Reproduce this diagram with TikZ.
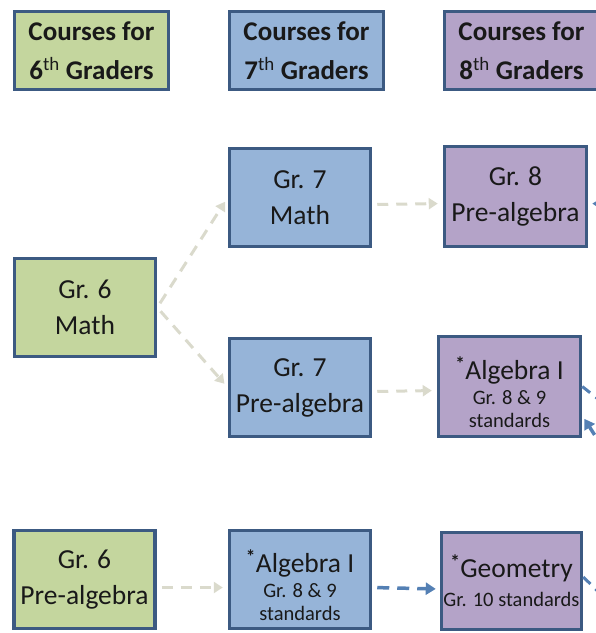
\documentclass[tikz,border=0pt]{standalone}
\usepackage{fontspec}
\setmainfont{Carlito}
\usepackage{tikz}
\usetikzlibrary{arrows.meta, positioning}
\definecolor{sixgreen}{RGB}{196,214,158}
\definecolor{sevenblue}{RGB}{150,180,216}
\definecolor{eightviolet}{RGB}{180,163,200}
\definecolor{boxborder}{RGB}{60,90,130}
\definecolor{pathbeige}{RGB}{218,218,204}
\definecolor{pathblue}{RGB}{84,128,180}
\definecolor{textdark}{RGB}{25,25,25}

\newcommand{\smalltxt}{\fontsize{20.5}{25}\selectfont}
\newcommand{\coremark}{\textsuperscript{\textbf{*}}}

\begin{document}
\begin{tikzpicture}[x=1pt, y=-1pt,
  course/.style={rectangle, draw=boxborder, line width=3.5pt, text=textdark, align=center, inner sep=0pt, minimum width=141pt, minimum height=98pt, font=\fontsize{27.5}{36}\selectfont},
  header/.style={course, minimum width=154pt, minimum height=78pt, font=\fontsize{27}{39}\selectfont\bfseries},
  lightpath/.style={pathbeige, line width=3pt, dash pattern=on 11pt off 8pt, -{Triangle[length=9pt,width=11pt]}, shorten <=5pt, shorten >=5pt},
  bluepath/.style={pathblue, line width=3.5pt, dash pattern=on 12pt off 8pt, -{Triangle[length=10pt,width=12pt]}, shorten <=5pt, shorten >=4pt},
  stubpath/.style={pathblue, line width=3pt, dash pattern=on 10pt off 7pt}]

\useasboundingbox (0,0) rectangle (596,633);

% Column headers
\node[header, fill=sixgreen] at (91.5,50.5) (head6) {Courses for\\6\textsuperscript{\normalfont th} Graders};
\node[header, fill=sevenblue] at (306.5,50.5) (head7) {Courses for\\7\textsuperscript{\normalfont th} Graders};
\node[header, fill=eightviolet] at (521.5,50.5) (head8) {Courses for\\8\textsuperscript{\normalfont th} Graders};

% Grade 6 courses
\node[course, fill=sixgreen] at (85,307.5) (gr6math) {Gr. 6\\Math};
\node[course, fill=sixgreen] at (84.5,579.5) (gr6pre) {Gr. 6\\Pre-algebra};

% Grade 7 courses
\node[course, fill=sevenblue] at (300,197.5) (gr7math) {Gr. 7\\Math};
\node[course, fill=sevenblue] at (300,387.5) (gr7pre) {Gr. 7\\Pre-algebra};
\node[course, fill=sevenblue] at (300,579.5) (alg7) {\rule{0pt}{34pt}\coremark Algebra I\\[-11pt]{\smalltxt Gr. 8 \& 9}\\[-13pt]{\smalltxt standards}};

% Grade 8 courses
\node[course, fill=eightviolet, minimum width=142pt, minimum height=100pt] at (515.5,196.5) (gr8pre) {Gr. 8\\Pre-algebra};
\node[course, fill=eightviolet, minimum width=142pt, minimum height=100pt] at (509.5,386.5) (alg8) {\rule{0pt}{34pt}\coremark Algebra I\\[-11pt]{\smalltxt Gr. 8 \& 9}\\[-13pt]{\smalltxt standards}};
\node[course, fill=eightviolet, minimum width=140pt, minimum height=97pt] at (511.5,581) (geom) {\coremark Geometry\\[-7pt]{\smalltxt Gr. 10 standards}};

% Ends of the paths that run off the page
\coordinate (off1) at (612,204);
\coordinate (off2) at (612,410);
\coordinate (off3) at (608,456);
\coordinate (off4) at (612,605);

% Paths between courses
\draw[lightpath] (gr6math.east) -- (gr7math.west);
\draw[lightpath] (gr6math.east) -- (gr7pre.west);
\draw[lightpath] ([yshift=-7pt]gr7math.east) -- ([yshift=-7pt]gr8pre.west);
\draw[lightpath] ([yshift=-4pt]gr7pre.east) -- ([yshift=-4pt]alg8.west);
\draw[lightpath] ([yshift=-8pt]gr6pre.east) -- ([yshift=-8pt]alg7.west);
\draw[bluepath] ([yshift=-8pt]alg7.east) -- ([yshift=-8pt]geom.west);

% Paths that run off the right edge
\draw[bluepath] (off1) -- ([yshift=-7pt]gr8pre.east);
\draw[stubpath] (alg8.east) -- (off2);
\draw[bluepath] (off3) -- ([yshift=-29pt]alg8.east);
\draw[stubpath] ([yshift=4pt]geom.east) -- (off4);

\end{tikzpicture}
\end{document}
